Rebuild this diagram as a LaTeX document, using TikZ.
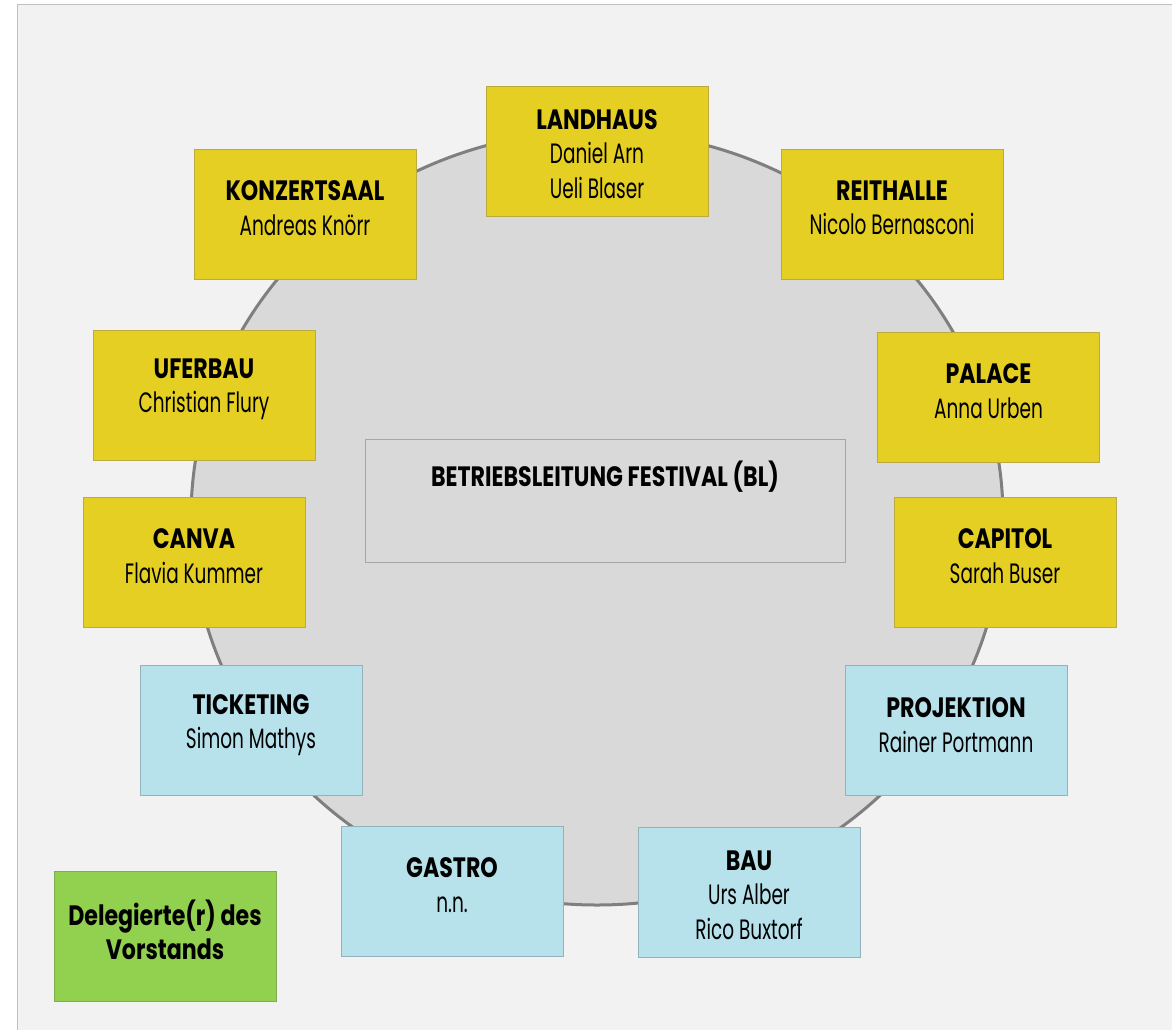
\documentclass[tikz,border=0pt]{standalone}
\usepackage{fontspec}
\setmainfont{Poppins}[FakeStretch=0.66, BoldFeatures={FakeStretch=0.79}]
\definecolor{bgc}{HTML}{F2F2F2}
\definecolor{bgline}{HTML}{BFBFBF}
\definecolor{circfill}{HTML}{D9D9D9}
\definecolor{circline}{HTML}{7F7F7F}
\definecolor{yfill}{HTML}{E5CF23}
\definecolor{yline}{HTML}{BBA942}
\definecolor{bfill}{HTML}{B7E1EB}
\definecolor{bline}{HTML}{93B3BC}
\definecolor{gfill}{HTML}{92D050}
\definecolor{gline}{HTML}{7EAE4A}
\definecolor{blline}{HTML}{A6A6A6}
\tikzset{
  boxbase/.style={rectangle, minimum width=222pt, minimum height=130pt, inner sep=0pt, line width=1pt},
  ybox/.style={boxbase, fill=yfill, draw=yline},
  bbox/.style={boxbase, fill=bfill, draw=bline},
  gbox/.style={boxbase, fill=gfill, draw=gline},
  txt/.style={align=center, font=\fontsize{28}{34.5}\selectfont, text=black, inner sep=0pt},
}
\newcommand{\hd}[1]{\textbf{#1}}
\begin{document}
\begin{tikzpicture}[x=1pt,y=-1pt]
\useasboundingbox (0,0) rectangle (1172,1029);
\begin{scope}
\clip (0,0) rectangle (1172,1029);
\fill[white] (0,0) rectangle (1172,1029);
\draw[fill=bgc, draw=bgline, line width=1.5pt] (17.5,4.5) rectangle (1190,1045);
\end{scope}
\draw[fill=circfill, draw=circline, line width=3pt] (597,518) ellipse [x radius=406, y radius=387];
% center box
\node[rectangle, minimum width=480pt, minimum height=123pt, fill=circfill, draw=blline, line width=1pt] (bl) at (605,500.5) {};
\node[txt] (blt) at (605,477) {\hd{BETRIEBSLEITUNG FESTIVAL (BL)}};
% yellow boxes
\node[ybox] (landhaus) at (597,151) {};
\node[txt] (landhaust) at ([yshift=-3pt]landhaus.center) {\hd{LANDHAUS}\\Daniel Arn\\Ueli Blaser};
\node[ybox] (konzert) at (305,214) {};
\node[txt] (konzertt) at ([yshift=6pt]konzert.center) {\hd{KONZERTSAAL}\\Andreas Knörr};
\node[ybox] (reithalle) at (892,214) {};
\node[txt] (reithallet) at ([yshift=6pt]reithalle.center) {\hd{REITHALLE}\\Nicolo Bernasconi};
\node[ybox] (uferbau) at (204,395.5) {};
\node[txt] (uferbaut) at ([yshift=6pt]uferbau.center) {\hd{UFERBAU}\\Christian Flury};
\node[ybox] (palace) at (988.5,397) {};
\node[txt] (palacet) at ([yshift=6pt]palace.center) {\hd{PALACE}\\Anna Urben};
\node[ybox] (canva) at (194,562) {};
\node[txt] (canvat) at ([yshift=6pt]canva.center) {\hd{CANVA}\\Flavia Kummer};
\node[ybox] (capitol) at (1005,562) {};
\node[txt] (capitolt) at ([yshift=6pt]capitol.center) {\hd{CAPITOL}\\Sarah Buser};
% blue boxes
\node[bbox] (ticketing) at (251,730) {};
\node[txt] (ticketingt) at ([yshift=5pt]ticketing.center) {\hd{TICKETING}\\Simon Mathys};
\node[bbox] (projektion) at (956,730) {};
\node[txt] (projektiont) at ([yshift=5pt]projektion.center) {\hd{PROJEKTION}\\Rainer Portmann};
\node[bbox] (gastro) at (452,891) {};
\node[txt] (gastrot) at ([yshift=6pt]gastro.center) {\hd{GASTRO}\\n.n.};
\node[bbox] (bau) at (749,892) {};
\node[txt] (baut) at ([yshift=-3pt]bau.center) {\hd{BAU}\\Urs Alber\\Rico Buxtorf};
% green box
\node[gbox] (deleg) at (165,936) {};
\node[txt] (delegt) at ([yshift=6pt]deleg.center) {\hd{Delegierte(r) des}\\\hd{Vorstands}};
\end{tikzpicture}
\end{document}
